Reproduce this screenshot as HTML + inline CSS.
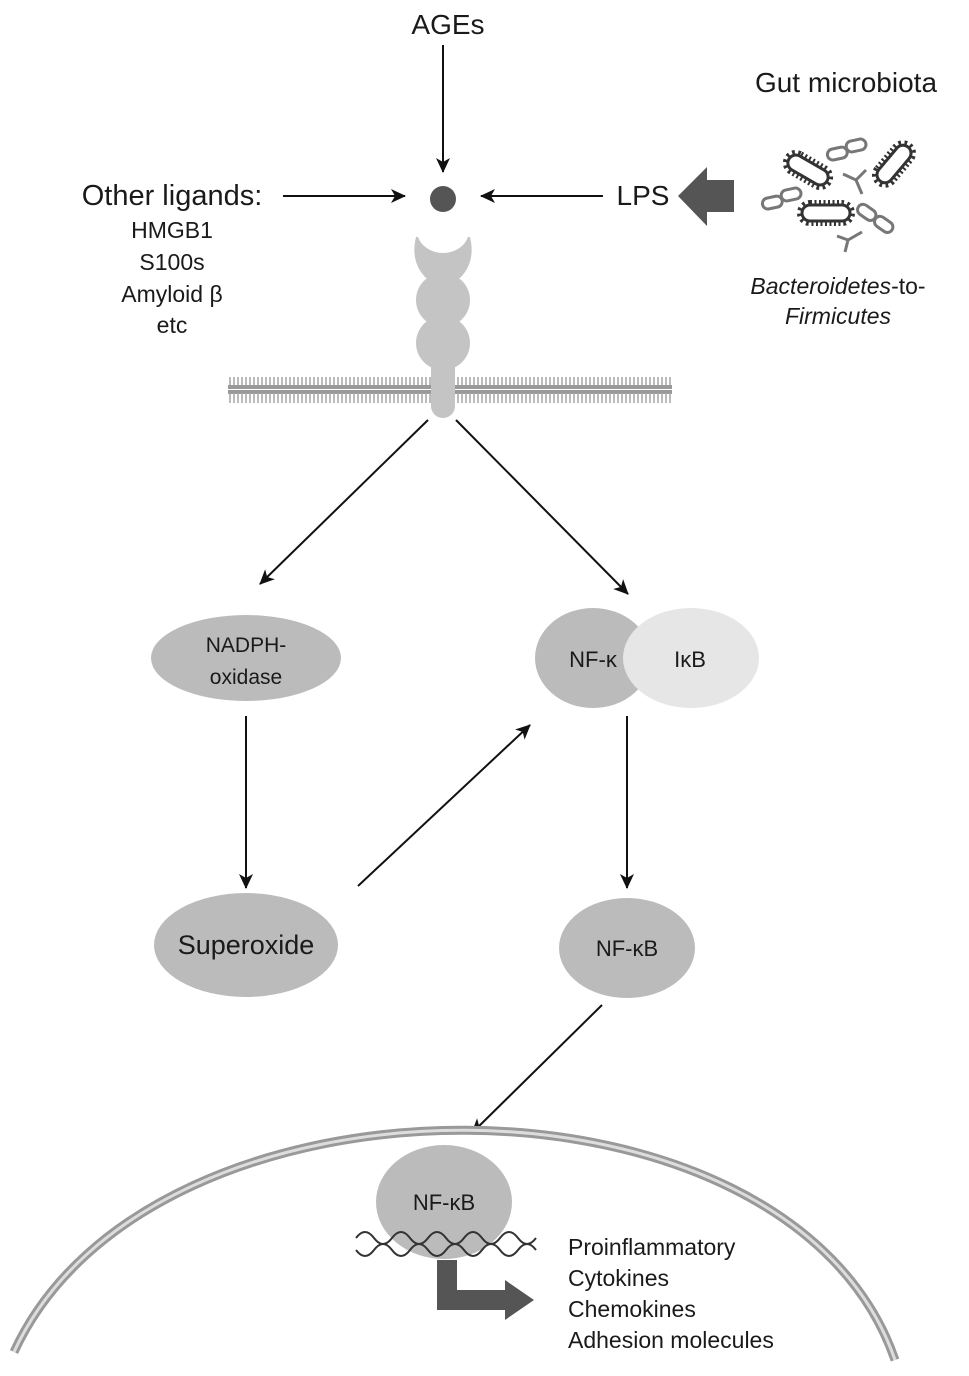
<!DOCTYPE html>
<html><head><meta charset="utf-8"><style>
body{margin:0;background:#fff}
svg{display:block}
text{font-family:"Liberation Sans",sans-serif;fill:#1a1a1a}
</style></head><body>
<svg width="969" height="1376" viewBox="0 0 969 1376" xmlns="http://www.w3.org/2000/svg">
<defs>
<marker id="a" markerWidth="16" markerHeight="16" refX="14" refY="7" orient="auto" markerUnits="userSpaceOnUse">
<path d="M0,0 L15,7 L0,14 L4,7 Z" fill="#111"/></marker>
<pattern id="mem" width="4" height="30" patternUnits="userSpaceOnUse">
<rect width="4" height="30" fill="#fff"/>
<rect x="0" y="0" width="4" height="4" fill="#999"/>
<line x1="2" y1="3" x2="2" y2="13" stroke="#aaa" stroke-width="1.6"/>
<line x1="2" y1="16" x2="2" y2="26" stroke="#aaa" stroke-width="1.6"/>
<rect x="0" y="25" width="4" height="4" fill="#999"/>
</pattern>
</defs>
<g stroke="#111" stroke-width="2" fill="none" marker-end="url(#a)">
<line x1="443" y1="45" x2="443" y2="172"/>
<line x1="283" y1="196" x2="405" y2="196"/>
<line x1="603" y1="196" x2="481" y2="196"/>
<line x1="428" y1="420" x2="260" y2="584"/>
<line x1="456" y1="420" x2="628" y2="594"/>
<line x1="246" y1="716" x2="246" y2="888"/>
<line x1="358" y1="886" x2="530" y2="725"/>
<line x1="627" y1="716" x2="627" y2="888"/>
<line x1="602" y1="1005" x2="472" y2="1133"/>
</g>
<text x="448" y="34" font-size="28" text-anchor="middle">AGEs</text>
<text x="846" y="92" font-size="28" text-anchor="middle">Gut microbiota</text>
<text x="172" y="205" font-size="29" text-anchor="middle">Other ligands:</text>
<text x="172" y="238" font-size="23" text-anchor="middle">HMGB1</text>
<text x="172" y="270" font-size="23" text-anchor="middle">S100s</text>
<text x="172" y="302" font-size="23" text-anchor="middle">Amyloid β</text>
<text x="172" y="333" font-size="23" text-anchor="middle">etc</text>
<text x="643" y="205" font-size="28" text-anchor="middle">LPS</text>
<path d="M734,180 L707,180 L707,167 L678,196 L707,226 L707,212 L734,212 Z" fill="#555"/>
<text x="838" y="294" font-size="23" text-anchor="middle" font-style="italic">Bacteroidetes<tspan font-style="normal">-to-</tspan></text>
<text x="838" y="324" font-size="23" text-anchor="middle" font-style="italic">Firmicutes</text>
<g fill="none">
<g transform="rotate(30 808 170)"><rect x="786" y="162" width="44" height="16" rx="8" stroke="#333" stroke-width="10" stroke-dasharray="2 2.5"/><rect x="786" y="162" width="44" height="16" rx="8" fill="#fff" stroke="#333" stroke-width="3"/></g>
<g><rect x="802" y="205" width="48" height="16" rx="8" stroke="#333" stroke-width="10" stroke-dasharray="2 2.5"/><rect x="802" y="205" width="48" height="16" rx="8" fill="#fff" stroke="#333" stroke-width="3"/></g>
<g transform="rotate(-50 894 164)"><rect x="872" y="156" width="44" height="16" rx="8" stroke="#333" stroke-width="10" stroke-dasharray="2 2.5"/><rect x="872" y="156" width="44" height="16" rx="8" fill="#fff" stroke="#333" stroke-width="3"/></g>
<g stroke="#777" stroke-width="3">
<rect x="827" y="146" width="20" height="11" rx="5.5" transform="rotate(-12 847 151)"/><rect x="847" y="142" width="20" height="11" rx="5.5" transform="rotate(-12 847 151)"/>
<rect x="762" y="195" width="20" height="11" rx="5.5" transform="rotate(-12 782 200)"/><rect x="782" y="191" width="20" height="11" rx="5.5" transform="rotate(-12 782 200)"/>
<rect x="857" y="207" width="20" height="11" rx="5.5" transform="rotate(35 867 212)"/><rect x="874" y="219" width="20" height="11" rx="5.5" transform="rotate(35 884 224)"/>
<path d="M843,174 L856,180 L866,170 M856,180 L862,194"/>
<path d="M837,236 L848,240 L862,232 M848,240 L845,252"/>
</g>
</g>
<circle cx="443" cy="199" r="13" fill="#555"/>
<rect x="228" y="377" width="444" height="28" fill="url(#mem)"/>
<g fill="#c4c4c4">
<rect x="431" y="330" width="24" height="88" rx="12"/>
<circle cx="443" cy="300" r="27"/><circle cx="443" cy="343" r="27"/>
<path d="M416,237 L418,237 A26,22 0 0 0 468,237 L470,237 Q476,262 460,278 L426,278 Q410,262 416,237 Z"/>
</g>
<ellipse cx="246" cy="658" rx="95" ry="43" fill="#bbb"/>
<text x="246" y="652" font-size="21" text-anchor="middle">NADPH-</text>
<text x="246" y="684" font-size="21" text-anchor="middle">oxidase</text>
<ellipse cx="593" cy="658" rx="58" ry="50" fill="#bbb"/>
<ellipse cx="691" cy="658" rx="68" ry="50" fill="#e6e6e6"/>
<text x="593" y="667" font-size="22" text-anchor="middle">NF-κ</text>
<text x="690" y="667" font-size="22" text-anchor="middle">IκB</text>
<ellipse cx="246" cy="945" rx="92" ry="52" fill="#bbb"/>
<text x="246" y="954" font-size="27" text-anchor="middle">Superoxide</text>
<ellipse cx="627" cy="948" rx="68" ry="50" fill="#bbb"/>
<text x="627" y="956" font-size="22" text-anchor="middle">NF-κB</text>
<path d="M14,1352 C150,1055 790,1055 895,1360" stroke="#999" stroke-width="9" fill="none"/>
<path d="M14,1352 C150,1055 790,1055 895,1360" stroke="#ddd" stroke-width="3" fill="none"/>
<ellipse cx="444" cy="1202" rx="68" ry="57" fill="#bbb"/>
<text x="444" y="1210" font-size="22" text-anchor="middle">NF-κB</text>
<g stroke="#333" stroke-width="2" fill="none">
<path d="M356,1238 q9,-12 18,0 t18,0 t18,0 t18,0 t18,0 t18,0 t18,0 t18,0 t18,0 t18,0"/>
<path d="M356,1250 q9,12 18,0 t18,0 t18,0 t18,0 t18,0 t18,0 t18,0 t18,0 t18,0 t18,0"/>
</g>
<path d="M437,1260 L457,1260 L457,1290 L505,1290 L505,1280 L534,1300 L505,1320 L505,1310 L437,1310 Z" fill="#555"/>
<text x="568" y="1255" font-size="23">Proinflammatory</text>
<text x="568" y="1286" font-size="23">Cytokines</text>
<text x="568" y="1317" font-size="23">Chemokines</text>
<text x="568" y="1348" font-size="23">Adhesion molecules</text>
</svg>
</body></html>
